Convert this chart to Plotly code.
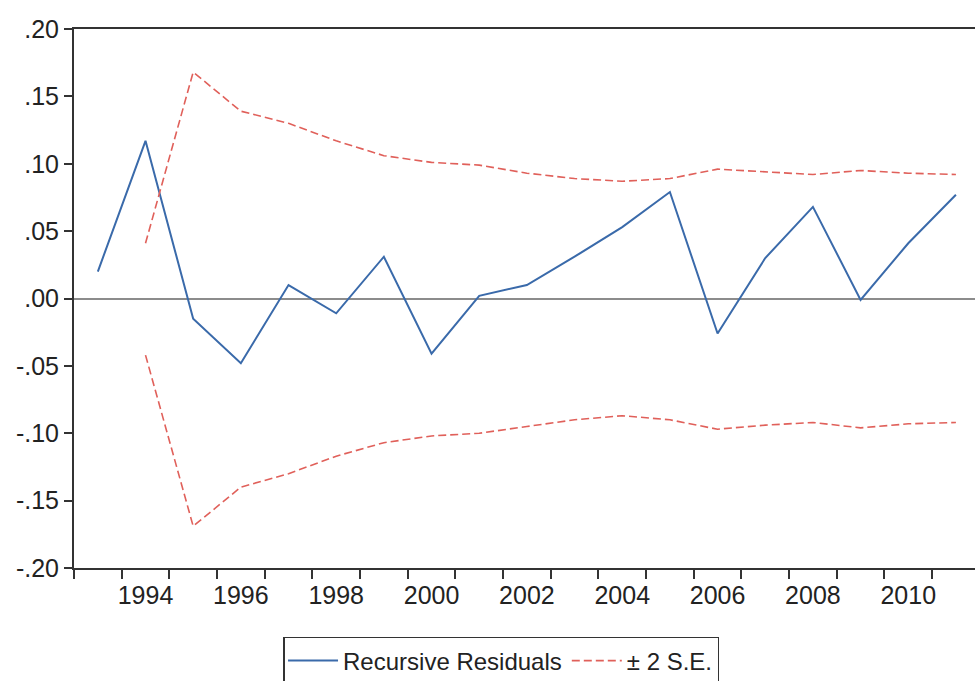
import plotly.graph_objects as go

# Annual observations
years = list(range(1993, 2012))

# Recursive residuals, 1993-2011
residuals = [0.020, 0.117, -0.015, -0.048, 0.010, -0.011, 0.031, -0.041, 0.002,
             0.010, 0.031, 0.053, 0.079, -0.026, 0.030, 0.068, -0.001, 0.041, 0.077]

# Two-standard-error band, available from 1994 on
band_years = list(range(1994, 2012))
upper_band = [0.041, 0.168, 0.139, 0.130, 0.117, 0.106, 0.101, 0.099, 0.093,
              0.089, 0.087, 0.089, 0.096, 0.094, 0.092, 0.095, 0.093, 0.092]
lower_band = [-0.042, -0.169, -0.140, -0.130, -0.117, -0.107, -0.102, -0.100, -0.095,
              -0.090, -0.087, -0.090, -0.097, -0.094, -0.092, -0.096, -0.093, -0.092]

# Axis labelling
x_label_years = list(range(1994, 2011, 2))
x_label_text = [str(y) for y in x_label_years]
period_bounds = [y + 0.5 for y in range(1992, 2011)]
y_tick_vals = [0.20, 0.15, 0.10, 0.05, 0.00, -0.05, -0.10, -0.15, -0.20]
y_tick_text = [".20", ".15", ".10", ".05", ".00", "-.05", "-.10", "-.15", "-.20"]

BLUE = "#3a6aaa"
RED = "#e0605a"
AXIS = "#333333"
FONT = "Liberation Sans, Arial, sans-serif"

fig = go.Figure()
fig.add_trace(go.Scatter(
    x=years, y=residuals, mode="lines", name="Recursive Residuals",
    line=dict(color=BLUE, width=2),
))
fig.add_trace(go.Scatter(
    x=band_years, y=upper_band, mode="lines", name="\u00b1 2 S.E.",
    legendgroup="se", line=dict(color=RED, width=1.6, dash="8px,4px"),
))
fig.add_trace(go.Scatter(
    x=band_years, y=lower_band, mode="lines", name="\u00b1 2 S.E.",
    legendgroup="se", showlegend=False,
    line=dict(color=RED, width=1.6, dash="8px,4px"),
))

fig.update_layout(
    width=975, height=681,
    margin=dict(l=74, r=0, t=29, b=113, autoexpand=False),
    paper_bgcolor="white", plot_bgcolor="white",
    font=dict(family=FONT, size=25, color="#222222"),
    showlegend=True,
    legend=dict(
        orientation="h", x=0.232, xanchor="left", y=-0.128, yanchor="top",
        bordercolor=AXIS, borderwidth=1.5, bgcolor="white",
        font=dict(family=FONT, size=24, color="#222222"),
        itemwidth=50, tracegroupgap=0,
    ),
    xaxis=dict(
        range=[1992.5, 2011.40],
        tickmode="array", tickvals=x_label_years, ticktext=x_label_text,
        ticks="", ticklabelstandoff=4,
        minor=dict(tickmode="array", tickvals=period_bounds, ticks="outside",
                   ticklen=9, tickwidth=1.5, tickcolor=AXIS, showgrid=False),
        showline=True, linecolor=AXIS, linewidth=2, mirror=True,
        showgrid=False, zeroline=False,
    ),
    yaxis=dict(
        range=[-0.2, 0.2],
        tickmode="array", tickvals=y_tick_vals, ticktext=y_tick_text,
        ticks="outside", ticklen=8, tickwidth=1.5, tickcolor=AXIS,
        showline=True, linecolor=AXIS, linewidth=2,
        showgrid=False,
        zeroline=True, zerolinecolor="#8c8c8c", zerolinewidth=1.5,
    ),
)

fig.write_html("out.html")
